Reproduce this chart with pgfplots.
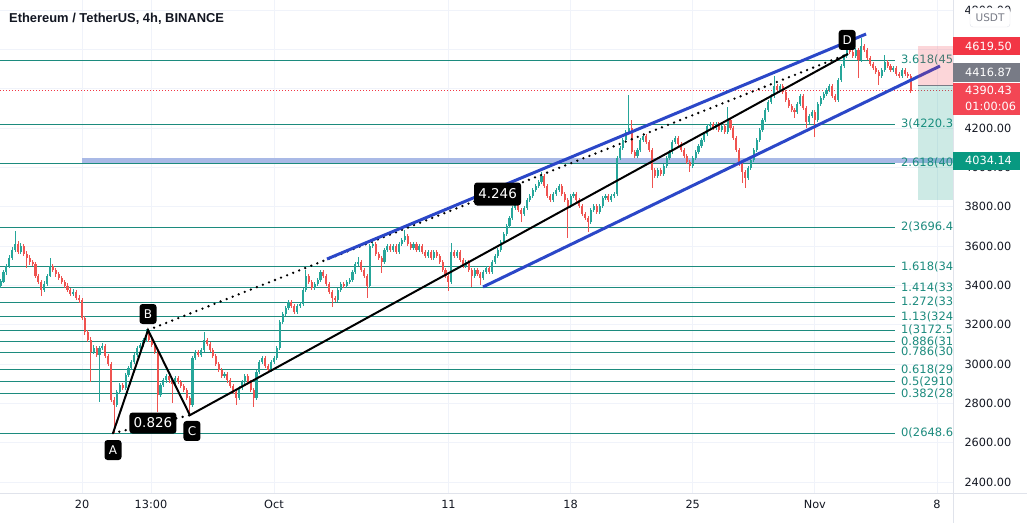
\documentclass[border=0pt]{standalone}
\usepackage{fontspec}
\setmainfont{DejaVu Sans}
\newfontfamily\titlefont{Liberation Sans}
\usepackage{pgfplots}
\usepackage{pgfplotstable}
\pgfplotsset{compat=1.18}

\definecolor{upc}{HTML}{26A69A}
\definecolor{dnc}{HTML}{EF5350}
\definecolor{gridc}{HTML}{F0F3FA}
\definecolor{axc}{HTML}{E0E3EB}
\definecolor{labc}{HTML}{131722}
\definecolor{fibc}{HTML}{1C8B7E}
\definecolor{chan}{HTML}{2B47C8}
\definecolor{redl}{HTML}{F23645}
\definecolor{tealb}{HTML}{089981}
\definecolor{grayb}{HTML}{787B86}
\definecolor{bandc}{HTML}{A9B9E6}

% ETH/USDT 4h candles, k = 4h steps from 20 Sep 00:00
\pgfplotstableread{
k o h l c
-28 3400 3432 3388 3420
-27 3420 3480 3410 3468
-26 3468 3510 3455 3498
-25 3498 3552 3488 3539
-24 3539 3595 3528 3580
-23 3580 3676 3570 3610
-22 3610 3625 3560 3570
-21 3570 3614 3558 3600
-20 3600 3612 3548 3559
-19 3559 3575 3488 3539
-18 3539 3552 3505 3519
-17 3519 3530 3496 3508
-16 3508 3518 3436 3448
-15 3448 3460 3405 3417
-14 3417 3428 3346 3376
-13 3376 3420 3365 3407
-12 3407 3460 3396 3448
-11 3448 3539 3440 3498
-10 3498 3510 3466 3478
-9 3478 3490 3445 3458
-8 3458 3470 3425 3437
-7 3437 3450 3405 3417
-6 3417 3428 3385 3397
-5 3397 3410 3364 3376
-4 3376 3388 3344 3356
-3 3356 3380 3345 3366
-2 3366 3375 3325 3336
-1 3336 3350 3312 3325
0 3325 3338 3222 3234
1 3234 3245 3150 3163
2 3163 3175 3110 3122
3 3122 3135 2909 3061
4 3061 3095 3050 3081
5 3081 3092 3034 3046
6 3046 3093 2807 3081
7 3081 3105 3070 3092
8 3092 3102 3030 3041
9 3041 3052 2990 3000
10 3000 3012 2805 2817
11 2817 2830 2649 2792
12 2792 2870 2780 2858
13 2858 2905 2846 2893
14 2893 2905 2866 2878
15 2878 2956 2866 2944
16 2944 2992 2932 2980
17 2980 3022 2968 3010
18 3010 3058 2998 3046
19 3046 3093 3034 3081
20 3081 3109 3069 3097
21 3097 3134 3085 3122
22 3122 3178 3110 3148
23 3148 3160 3110 3122
24 3122 3134 3085 3097
25 3097 3108 3049 3061
26 3061 3072 2756 2842
27 2842 2905 2830 2893
28 2893 2930 2881 2918
29 2918 2951 2906 2939
30 2939 2950 2906 2918
31 2918 2930 2802 2898
32 2898 2941 2886 2929
33 2929 2940 2897 2909
34 2909 2920 2876 2888
35 2888 2900 2856 2868
36 2868 2880 2815 2827
37 2827 2838 2740 2792
38 2792 3043 2780 3031
39 3031 3073 3019 3061
40 3061 3072 3034 3046
41 3046 3083 3034 3071
42 3071 3163 3060 3122
43 3122 3134 3090 3102
44 3102 3114 3059 3071
45 3071 3083 3029 3041
46 3041 3052 2988 3000
47 3000 3012 2958 2970
48 2970 2982 2927 2939
49 2939 2961 2927 2949
50 2949 2960 2906 2918
51 2918 2930 2876 2888
52 2888 2900 2846 2858
53 2858 2870 2792 2827
54 2827 2890 2815 2878
55 2878 2921 2866 2909
56 2909 2951 2897 2939
57 2939 2950 2897 2909
58 2909 2920 2856 2868
59 2868 2880 2781 2827
60 2827 2971 2815 2959
61 2959 3022 2947 3010
62 3010 3043 2998 3031
63 3031 3042 2978 2990
64 2990 3002 2958 2970
65 2970 3022 2958 3010
66 3010 3043 2998 3031
67 3031 3093 3019 3081
68 3081 3226 3069 3214
69 3214 3266 3202 3254
70 3254 3297 3242 3285
71 3285 3328 3273 3316
72 3316 3327 3283 3295
73 3295 3306 3253 3265
74 3265 3307 3253 3295
75 3295 3317 3283 3305
76 3305 3388 3293 3376
77 3376 3478 3364 3448
78 3448 3460 3405 3417
79 3417 3428 3374 3386
80 3386 3419 3374 3407
81 3407 3439 3395 3427
82 3427 3480 3415 3468
83 3468 3480 3436 3448
84 3448 3460 3395 3407
85 3407 3418 3354 3366
86 3366 3378 3290 3336
87 3336 3348 3313 3325
88 3325 3388 3313 3376
89 3376 3419 3364 3407
90 3407 3418 3385 3397
91 3397 3429 3385 3417
92 3417 3439 3405 3427
93 3427 3480 3415 3468
94 3468 3521 3456 3509
95 3509 3544 3497 3519
96 3519 3530 3466 3478
97 3478 3490 3436 3448
98 3448 3460 3336 3397
99 3397 3612 3385 3600
100 3600 3622 3588 3610
101 3610 3621 3547 3559
102 3559 3570 3527 3539
103 3539 3550 3463 3519
104 3519 3592 3507 3580
105 3580 3612 3568 3600
106 3600 3611 3568 3580
107 3580 3612 3568 3600
108 3600 3611 3558 3570
109 3570 3622 3558 3610
110 3610 3643 3598 3631
111 3631 3681 3619 3651
112 3651 3662 3598 3610
113 3610 3621 3578 3590
114 3590 3622 3578 3610
115 3610 3621 3568 3580
116 3580 3612 3568 3600
117 3600 3611 3558 3570
118 3570 3581 3537 3549
119 3549 3582 3537 3570
120 3570 3581 3527 3539
121 3539 3582 3527 3570
122 3570 3581 3537 3549
123 3549 3560 3507 3519
124 3519 3530 3466 3478
125 3478 3490 3436 3448
126 3448 3460 3371 3417
127 3417 3615 3405 3570
128 3570 3581 3537 3549
129 3549 3582 3537 3570
130 3570 3581 3517 3529
131 3529 3540 3486 3498
132 3498 3531 3486 3519
133 3519 3530 3466 3478
134 3478 3490 3392 3448
135 3448 3490 3436 3478
136 3478 3489 3446 3458
137 3458 3469 3402 3437
138 3437 3480 3425 3468
139 3468 3500 3456 3488
140 3488 3499 3456 3468
141 3468 3531 3456 3519
142 3519 3561 3507 3549
143 3549 3592 3537 3580
144 3580 3632 3568 3620
145 3620 3673 3608 3661
146 3661 3714 3649 3702
147 3702 3754 3690 3742
148 3742 3805 3730 3793
149 3793 3826 3781 3814
150 3814 3825 3771 3783
151 3783 3794 3722 3763
152 3763 3805 3751 3793
153 3793 3846 3781 3834
154 3834 3866 3822 3854
155 3854 3897 3842 3885
156 3885 3917 3873 3905
157 3905 3938 3893 3926
158 3926 3976 3914 3956
159 3956 3967 3893 3905
160 3905 3916 3842 3854
161 3854 3865 3822 3834
162 3834 3877 3822 3865
163 3865 3897 3853 3885
164 3885 3917 3873 3905
165 3905 3916 3853 3865
166 3865 3876 3822 3834
167 3834 3845 3641 3804
168 3804 3866 3792 3854
169 3854 3877 3842 3865
170 3865 3876 3822 3834
171 3834 3845 3792 3804
172 3804 3815 3751 3763
173 3763 3774 3730 3742
174 3742 3753 3671 3722
175 3722 3795 3710 3783
176 3783 3816 3771 3804
177 3804 3815 3761 3773
178 3773 3816 3761 3804
179 3804 3856 3792 3844
180 3844 3866 3832 3854
181 3854 3865 3822 3834
182 3834 3866 3822 3854
183 3854 3877 3842 3865
184 3865 4060 3853 4048
185 4048 4110 4036 4098
186 4098 4151 4086 4139
187 4139 4192 4127 4180
188 4180 4368 4168 4200
189 4200 4241 4066 4078
190 4078 4090 4046 4058
191 4058 4100 4046 4088
192 4088 4151 4076 4139
193 4139 4172 4127 4160
194 4160 4171 4117 4129
195 4129 4140 4076 4088
196 4088 4099 3895 3987
197 3987 3998 3944 3956
198 3956 3999 3944 3987
199 3987 3998 3954 3966
200 3966 4019 3954 4007
201 4007 4060 3995 4048
202 4048 4090 4036 4078
203 4078 4141 4066 4129
204 4129 4161 4117 4149
205 4149 4160 4107 4119
206 4119 4130 4076 4088
207 4088 4099 4046 4058
208 4058 4069 4015 4027
209 4027 4038 3976 4007
210 4007 4060 3995 4048
211 4048 4090 4036 4078
212 4078 4121 4066 4109
213 4109 4151 4097 4139
214 4139 4182 4127 4170
215 4170 4222 4158 4210
216 4210 4232 4198 4220
217 4220 4231 4188 4200
218 4200 4232 4188 4220
219 4220 4231 4178 4190
220 4190 4222 4178 4210
221 4210 4221 4168 4180
222 4180 4307 4168 4241
223 4241 4252 4188 4200
224 4200 4211 4137 4149
225 4149 4160 4076 4088
226 4088 4099 4005 4017
227 4017 4028 3920 3976
228 3976 3987 3895 3946
229 3946 4009 3934 3997
230 3997 4049 3985 4037
231 4037 4100 4025 4088
232 4088 4151 4076 4139
233 4139 4202 4127 4190
234 4190 4253 4178 4241
235 4241 4304 4229 4292
236 4292 4344 4280 4332
237 4332 4375 4320 4363
238 4363 4465 4351 4414
239 4414 4425 4381 4393
240 4393 4426 4381 4414
241 4414 4425 4371 4383
242 4383 4394 4331 4343
243 4343 4354 4300 4312
244 4312 4323 4280 4292
245 4292 4303 4251 4281
246 4281 4334 4269 4322
247 4322 4375 4310 4363
248 4363 4374 4290 4302
249 4302 4313 4200 4231
250 4231 4273 4219 4261
251 4261 4293 4249 4281
252 4281 4292 4154 4241
253 4241 4334 4229 4322
254 4322 4365 4310 4353
255 4353 4385 4341 4373
256 4373 4405 4361 4393
257 4393 4426 4381 4414
258 4414 4425 4351 4363
259 4363 4374 4331 4343
260 4343 4456 4331 4444
261 4444 4527 4432 4515
262 4515 4578 4503 4566
263 4566 4637 4554 4607
264 4607 4618 4575 4587
265 4587 4598 4554 4566
266 4566 4609 4554 4597
267 4597 4608 4454 4546
268 4546 4658 4534 4617
269 4617 4628 4585 4597
270 4597 4608 4544 4556
271 4556 4567 4514 4526
272 4526 4537 4493 4505
273 4505 4516 4473 4485
274 4485 4496 4419 4465
275 4465 4507 4453 4495
276 4495 4571 4483 4536
277 4536 4547 4503 4515
278 4515 4526 4483 4495
279 4495 4517 4483 4505
280 4505 4516 4463 4475
281 4475 4486 4453 4465
282 4465 4507 4453 4495
283 4495 4506 4463 4475
284 4475 4486 4453 4465
285 4465 4476 4380 4390.43
}\candles

\begin{document}
\begin{tikzpicture}[x=1pt,y=1pt]
\fill[white] (0,-30) rectangle (1027,493);
\begin{axis}[
  at={(0pt,0pt)}, anchor=south west,
  scale only axis, width=953pt, height=493pt,
  xmin=-28.2, xmax=299.5, ymin=2344.1, ymax=4851,
  axis line style={draw=none},
  major tick length=0pt,
  xtick={0,23.7,66,126,168,210,252,294},
  xticklabels={20,13:00,Oct,11,18,25,Nov,8},
  ytick={2400,2600,...,4800},
  yticklabels={2400.00,2600.00,2800.00,3000.00,3200.00,3400.00,3600.00,3800.00,4000.00,4200.00,,,4800.00},
  yticklabel pos=right,
  yticklabel style={anchor=west, xshift=8pt, text=labc, font=\fontsize{11.3}{13}\selectfont},
  xticklabel style={text=labc, yshift=-4pt, font=\fontsize{11.3}{13}\selectfont},
  xmajorgrids, ymajorgrids,
  major grid style={draw=gridc, line width=0.8pt},
]
% horizontal band
\fill[bandc] (axis cs:0,4020) rectangle (axis cs:300,4050);

% fibonacci extension levels
\pgfplotsinvokeforeach{2648.6,2848.7,2910.55,2972.4,3060.4,3112.8,3172.5,3240.6,3315,3389.4,3496.3,3696.4,4020.2,4220.3,4544.1}{
  \addplot[fibc, line width=1pt] coordinates {(-28.2,#1) (279.6,#1)};
}
% level labels, cut at the price scale as in the screenshot
\tikzset{fl/.style={anchor=west, text=fibc, inner sep=0pt, font=\fontsize{11.5}{13}\selectfont}}
\node[fl] at (axis cs:281.6,2648.6) {0(2648.6};
\node[fl] at (axis cs:281.6,2848.7) {0.382(28};
\node[fl] at (axis cs:281.6,2910.55) {0.5(2910};
\node[fl] at (axis cs:281.6,2972.4) {0.618(29};
\node[fl] at (axis cs:281.6,3060.4) {0.786(30};
\node[fl] at (axis cs:281.6,3112.8) {0.886(31};
\node[fl] at (axis cs:281.6,3172.5) {1(3172.5};
\node[fl] at (axis cs:281.6,3240.6) {1.13(324};
\node[fl] at (axis cs:281.6,3315) {1.272(33};
\node[fl] at (axis cs:281.6,3389.4) {1.414(33};
\node[fl] at (axis cs:281.6,3496.3) {1.618(34};
\node[fl] at (axis cs:281.6,3696.4) {2(3696.4};
\node[fl] at (axis cs:281.6,4020.2) {2.618(40};
\node[fl] at (axis cs:281.6,4220.3) {3(4220.3};
\node[fl] at (axis cs:281.6,4544.1) {3.618(45};

% current price line
\addplot[redl, line width=0.8pt, dash pattern=on 1pt off 2pt] coordinates {(-28.2,4390.43) (299.5,4390.43)};

% candles: wicks then bodies, rising and falling apart
\addplot[draw=none, mark=none, restrict expr to domain={\thisrow{c}-\thisrow{o}}{0:100000},
  error bars/.cd, y dir=both, y explicit, error mark=none, error bar style={draw=upc, line width=0.9pt}]
  table[x=k, y expr={(\thisrow{h}+\thisrow{l})/2}, y error expr={(\thisrow{h}-\thisrow{l})/2}] {\candles};
\addplot[draw=none, mark=none, restrict expr to domain={\thisrow{c}-\thisrow{o}}{0:100000},
  error bars/.cd, y dir=both, y explicit, error mark=none, error bar style={draw=upc, line width=2.1pt}]
  table[x=k, y expr={(\thisrow{o}+\thisrow{c})/2}, y error expr={abs(\thisrow{c}-\thisrow{o})/2+1}] {\candles};
\addplot[draw=none, mark=none, restrict expr to domain={\thisrow{c}-\thisrow{o}}{-100000:-0.01},
  error bars/.cd, y dir=both, y explicit, error mark=none, error bar style={draw=dnc, line width=0.9pt}]
  table[x=k, y expr={(\thisrow{h}+\thisrow{l})/2}, y error expr={(\thisrow{h}-\thisrow{l})/2}] {\candles};
\addplot[draw=none, mark=none, restrict expr to domain={\thisrow{c}-\thisrow{o}}{-100000:-0.01},
  error bars/.cd, y dir=both, y explicit, error mark=none, error bar style={draw=dnc, line width=2.1pt}]
  table[x=k, y expr={(\thisrow{o}+\thisrow{c})/2}, y error expr={abs(\thisrow{c}-\thisrow{o})/2+1}] {\candles};

% ABCD pattern
\addplot[black, line width=2pt] coordinates {(10.66,2648.6) (22.7,3172.5) (37.1,2740) (263.4,4577)};
\addplot[black, line width=2.6pt, line cap=round, dash pattern=on 0pt off 6.5pt] coordinates {(10.66,2648.6) (37.1,2740)};
\addplot[black, line width=2.6pt, line cap=round, dash pattern=on 0pt off 6.5pt] coordinates {(22.7,3172.5) (263.4,4577)};

% channel lines
\addplot[chan, line width=3pt] coordinates {(84.25,3534) (269.6,4678)};
\addplot[chan, line width=3pt] coordinates {(137.9,3392) (295.0,4515)};

% position tool
\fill[redl, opacity=0.2] (axis cs:287.5,4416.87) rectangle (axis cs:300,4619.5);
\fill[tealb, opacity=0.2] (axis cs:287.5,3834) rectangle (axis cs:300,4416.87);
\addplot[grayb, line width=0.9pt] coordinates {(287.5,4416.87) (300,4416.87)};

% point labels
\tikzset{pt/.style={fill=black, text=white, rounded corners=3pt, inner sep=0pt, minimum width=17pt, minimum height=20pt, font=\fontsize{12}{14}\selectfont}}
\node[pt] at (axis cs:10.66,2562.7) {A};
\node[pt] at (axis cs:22.7,3254.3) {B};
\node[pt] at (axis cs:37.8,2659.4) {C};
\node[pt] at (axis cs:263.1,4647.6) {D};
\node[pt, minimum width=47pt, minimum height=21pt, font=\fontsize{13.5}{15}\selectfont] at (axis cs:24.4,2700) {0.826};
\node[pt, minimum width=47pt, minimum height=23pt, font=\fontsize{13.5}{15}\selectfont] at (axis cs:142.9,3864.5) {4.246};
\end{axis}

% frame lines
\draw[axc, line width=1pt] (0,0) -- (1027,0);
\draw[axc, line width=1pt] (953,-30) -- (953,493);

% title
\node[anchor=west, text=labc, inner sep=0pt, font=\titlefont\bfseries\fontsize{12.9}{14}\selectfont] at (9,474) {Ethereum / TetherUS, 4h, BINANCE};

% right scale labels
\tikzset{bx/.style={text=white, anchor=west, inner sep=0pt, font=\fontsize{11.3}{13}\selectfont}}
\fill[white, draw=axc, rounded corners=3pt] (970,466) rectangle (1010,485);
\node[anchor=center, text=grayb, inner sep=0pt, font=\fontsize{10.5}{12}\selectfont] at (990,475.5) {USDT};
\fill[redl] (953,438) rectangle (1020,455.7);
\node[bx] at (965,446.8) {4619.50};
\fill[grayb] (953,411.3) rectangle (1020,429.7);
\node[bx] at (965,420.5) {4416.87};
\fill[redl!92!white] (953,378) rectangle (1020,410.3);
\node[bx] at (965,402.3) {4390.43};
\node[bx] at (965,386.3) {01:00:06};
\fill[tealb] (953,323) rectangle (1020,341.3);
\node[bx] at (965,332.2) {4034.14};

\pgfresetboundingbox
\useasboundingbox (0,-30) rectangle (1027,493);
\end{tikzpicture}
\end{document}
